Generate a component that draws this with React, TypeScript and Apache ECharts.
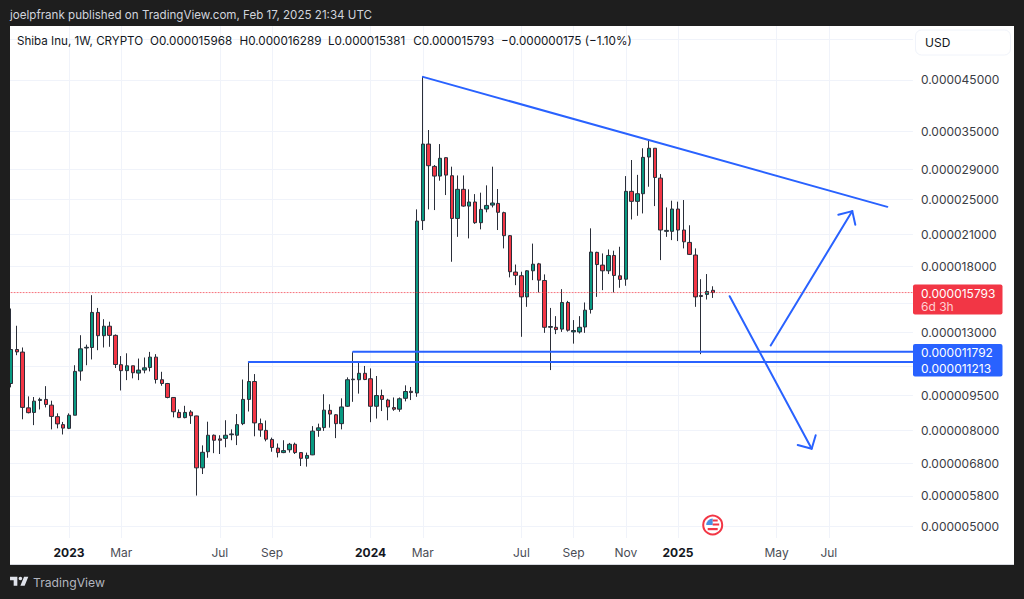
import React, { useEffect, useRef } from "react";
import * as echarts from "echarts";

// Prices are in millionths of a US dollar
const opens = [
  10.09, 11.93, 11.78, 8.95, 8.75, 9.28, 9.33, 9.07, 8.57, 8.24, 8.09, 8.63, 10.73, 12.02, 12.05, 14.32, 12.77, 13.38, 12.79, 11.07,
  10.75, 11.01, 10.62, 10.78, 10.92, 11.49, 10.28, 10.09, 9.42, 8.75, 8.53, 8.77, 8.6, 6.66, 7.21, 7.82, 7.68, 7.7, 7.84, 7.82,
  8.28, 9.33, 10.19, 8.28, 8.01, 7.66, 7.34, 7.18, 7.28, 7.48, 7.18, 6.98, 7.1, 8.01, 8.12, 8.84, 8.65, 8.28, 9.02, 10.28,
  10.28, 10.61, 10.33, 9.02, 9.51, 9.3, 8.96, 8.89, 9.38, 9.71, 9.63, 22.51, 32.82, 29.4, 28.03, 30.69, 28.08, 22.75, 26.26, 24.18,
  24.67, 22.28, 23.83, 24.3, 24.5, 23.41, 20.9, 17.47, 17.16, 15.46, 17.58, 18.19, 16.76, 13.31, 13.31, 13.19, 15.04, 13.01, 13.01, 13.33,
  14.53, 19.25, 18.08, 17.58, 18.96, 17.15, 16.87, 26.0, 24.75, 25.7, 30.79, 32.15, 27.75, 21.35, 21.35, 23.83, 21.49, 20.22, 19.0, 15.57,
  15.65, 15.968,
];
const closes = [
  11.93, 11.79, 8.97, 8.74, 9.25, 9.33, 9.1, 8.58, 8.27, 8.1, 8.63, 10.71, 11.97, 12.06, 14.32, 12.77, 13.38, 12.79, 11.08, 10.75,
  11.01, 10.64, 10.78, 10.9, 11.49, 10.29, 10.09, 9.42, 8.78, 8.53, 8.75, 8.61, 6.66, 7.19, 7.82, 7.63, 7.63, 7.82, 7.87, 8.24,
  9.33, 10.19, 8.31, 8.02, 7.67, 7.36, 7.18, 7.25, 7.48, 7.18, 6.98, 7.08, 7.98, 8.11, 8.85, 8.68, 8.28, 8.99, 10.28, 10.31,
  10.61, 10.29, 9.02, 9.51, 9.33, 8.99, 8.89, 9.36, 9.7, 9.65, 22.46, 32.82, 29.5, 28.03, 30.6, 28.17, 22.75, 26.26, 24.18, 24.67,
  22.28, 23.79, 24.26, 24.55, 23.45, 20.9, 17.5, 17.19, 15.46, 17.58, 18.16, 16.79, 13.31, 13.36, 13.16, 15.04, 13.12, 13.1, 13.31, 14.48,
  19.28, 18.13, 17.58, 18.96, 17.18, 16.85, 26.0, 24.75, 25.7, 30.74, 32.15, 27.84, 21.49, 21.45, 23.83, 21.49, 20.28, 19.06, 15.46, 15.49,
  15.88, 15.793,
];
const highs = [
  14.6, 13.41, 12.05, 9.47, 9.44, 9.41, 9.96, 9.27, 8.71, 8.35, 8.71, 11.04, 12.8, 12.22, 15.59, 14.64, 13.85, 13.68, 12.85, 11.55,
  11.71, 11.01, 11.41, 11.47, 11.79, 11.66, 10.69, 10.12, 9.44, 8.88, 9.04, 8.85, 8.61, 7.44, 8.36, 7.85, 7.82, 8.42, 8.05, 8.68,
  10.29, 11.21, 10.57, 8.49, 8.41, 7.73, 7.51, 7.63, 7.53, 7.54, 7.2, 7.18, 8.18, 8.28, 9.57, 9.11, 8.68, 9.38, 10.4, 11.77,
  11.21, 11.0, 10.87, 10.47, 9.79, 9.36, 9.42, 9.42, 10.0, 9.92, 23.79, 45.75, 35.17, 29.6, 32.82, 30.74, 29.36, 28.12, 28.12, 26.26,
  25.65, 25.83, 26.78, 29.36, 26.3, 23.52, 20.97, 18.13, 17.5, 17.64, 20.1, 18.28, 17.27, 14.64, 14.06, 16.06, 15.16, 13.79, 14.06, 15.04,
  21.67, 19.31, 19.15, 19.53, 19.41, 19.79, 28.03, 30.34, 28.2, 32.15, 33.37, 32.15, 28.31, 24.02, 24.83, 24.71, 24.91, 22.0, 19.63, 16.87,
  17.3, 16.289,
];
const lows = [
  9.9, 11.6, 8.46, 8.71, 8.22, 8.88, 8.97, 8.05, 8.09, 7.85, 8.06, 8.63, 10.23, 11.04, 11.36, 11.89, 12.05, 12.09, 10.89, 9.75,
  10.26, 10.35, 10.26, 10.61, 10.71, 10.09, 9.98, 9.38, 8.54, 8.51, 8.5, 8.27, 5.81, 6.46, 7.0, 7.16, 7.13, 7.37, 7.63, 7.45,
  8.22, 8.79, 7.78, 7.76, 7.59, 7.21, 7.01, 7.16, 7.18, 7.13, 6.72, 6.7, 7.09, 7.76, 7.99, 8.12, 7.71, 8.05, 8.99, 9.22,
  9.6, 10.26, 8.34, 8.49, 8.81, 8.42, 8.82, 8.78, 9.24, 9.3, 9.45, 21.49, 23.79, 23.71, 27.4, 25.53, 18.38, 20.78, 24.1, 20.62,
  22.15, 21.56, 23.45, 24.02, 21.49, 19.63, 17.02, 16.38, 12.7, 14.72, 16.79, 15.8, 12.95, 10.78, 12.87, 13.01, 13.03, 12.28, 12.91, 12.95,
  14.24, 15.46, 15.98, 17.3, 15.8, 16.17, 16.33, 22.64, 23.05, 23.32, 26.6, 24.18, 18.53, 20.78, 20.45, 20.35, 19.63, 19.0, 14.72, 11.66,
  15.26, 15.381,
];

const firstWeek = Date.UTC(2022, 9, 31);
const futureWeeks = 34;
const weeks = Array.from({ length: opens.length + futureWeeks }, (_, i) =>
  new Date(firstWeek + i * 7 * 86400000).toISOString().slice(0, 10)
);

const xTickWeeks = [10, 19, 36, 45, 62, 71, 88, 97, 106, 115, 132, 141];
const xTickLabels = ["2023", "Mar", "Jul", "Sep", "2024", "Mar", "Jul", "Sep", "Nov", "2025", "May", "Jul"];
const gridPrices = [55, 45, 35, 29, 25, 21, 18, 15, 13, 11, 9.5, 8, 6.8, 5.8, 5];
const labelledPrices = [45, 35, 29, 25, 21, 18, 13, 9.5, 8, 6.8, 5.8, 5];

const lastPrice = 15.793;
const resistance = 11.792;
const support = 11.213;
const trendLine = [[71.03, 45.7], [151.09, 24.09]];
const upShaft = [[130.98, 12.17], [145.05, 23.59]];
const upHead = [[142.64, 23.16], [145.05, 23.59], [145.57, 22.05]];
const downShaft = [[123.91, 15.51], [138.05, 7.32]];
const downHead = [[135.64, 7.45], [138.05, 7.32], [138.74, 7.82]];
const resistanceLine = [[59, resistance], [155.5, resistance]];
const supportLine = [[41, support], [155.5, support]];
const lastLine = [[-0.5, lastPrice], [155.5, lastPrice]];

const BLUE = "#2962ff";
const DARK = "#1e1e1e";
const FONT = "Inter, 'Noto Sans', sans-serif";

const LOGO = "M14 6H2v6h6v9h6V6Zm12 15h-7l6-15h7l-6 15Zm-7-9a3 3 0 1 0 0-6 3 3 0 0 0 0 6Z";
echarts.graphic.registerShape("tvlogo", echarts.graphic.extendPath(LOGO, {}) as any);

const overlay = (data: number[][], color = BLUE, width = 2, type: any = "solid", opacity = 1) => ({
  type: "line",
  xAxisIndex: 1,
  yAxisIndex: 0,
  data,
  showSymbol: false,
  symbol: "none",
  silent: true,
  z: 5,
  lineStyle: { color, width, type, opacity, cap: "round", join: "round" },
});

const txt = (x: number, y: number, text: string, fill: string, fontSize = 12.5, extra: any = {}) => ({
  type: "text",
  x,
  y,
  z: 60,
  silent: true,
  style: { text, fill, fontSize, fontFamily: FONT, textVerticalAlign: "middle", verticalAlign: "middle", ...extra },
});
const box = (x: number, y: number, width: number, height: number, fill: string, extra: any = {}, r = 0) => ({
  type: "rect",
  z: 50,
  silent: true,
  shape: { x, y, width, height, r },
  style: { fill, ...extra },
});

export default function App() {
  const ref = useRef<HTMLDivElement>(null);
  useEffect(() => {
    document.body.style.margin = "0";
    document.body.style.overflow = "hidden";
    const chart = echarts.init(ref.current!, undefined, { renderer: "svg" });
    chart.setOption({
      animation: false,
      backgroundColor: "#ffffff",
      grid: { left: 8.1, top: 26, width: 904.8, height: 512 },
      xAxis: [
        { type: "category", data: weeks, show: false },
        {
          type: "value",
          min: -0.5,
          max: 155.5,
          position: "bottom",
          axisLine: { show: false },
          axisTick: { show: false, customValues: xTickWeeks },
          splitLine: { show: true, lineStyle: { color: "#f0f3fa", width: 1 } },
          axisLabel: {
            customValues: xTickWeeks,
            margin: 8,
            color: "#4a4d55",
            fontFamily: FONT,
            fontSize: 12,
            formatter: (v: number) => {
              const label = xTickLabels[xTickWeeks.indexOf(v)] ?? "";
              return /^\d+$/.test(label) ? `{y|${label}}` : label;
            },
            rich: { y: { fontWeight: 700, color: "#131722", fontFamily: FONT, fontSize: 12 } },
          },
        },
      ],
      yAxis: {
        type: "log",
        position: "right",
        min: 4.714,
        max: 58.71,
        axisLine: { show: false },
        axisTick: { show: false, customValues: gridPrices },
        splitLine: { show: true, lineStyle: { color: "#f0f3fa", width: 1 } },
        axisLabel: {
          customValues: labelledPrices,
          margin: 8,
          color: "#3a3d45",
          fontFamily: FONT,
          fontSize: 12,
          formatter: (v: number) => (v / 1e6).toFixed(9),
        },
      },
      series: [
        overlay(lastLine, "#f23645", 1, [1, 2], 0.7),
        {
          type: "candlestick",
          xAxisIndex: 0,
          yAxisIndex: 0,
          z: 3,
          barWidth: 4,
          data: opens.map((o, i) => [o, closes[i], lows[i], highs[i]]),
          itemStyle: {
            color: "#089981",
            color0: "#f23645",
            borderColor: "#2a2e39",
            borderColor0: "#2a2e39",
            borderWidth: 1,
          },
        },
        overlay(trendLine),
        overlay(resistanceLine),
        overlay(supportLine),
        overlay(upShaft),
        overlay(upHead),
        overlay(downShaft),
        overlay(downHead),
      ],
      graphic: [
        box(0, 0, 1024, 26, DARK),
        box(0, 0, 10, 599, DARK),
        box(1014, 0, 10, 599, DARK),
        box(0, 565, 1024, 34, DARK),
        box(10, 564, 1004, 1, "#d6d8de"),
        txt(10, 15, "joelpfrank published on TradingView.com, Feb 17, 2025 21:34 UTC", "#d1d4dc", 11.6),
        txt(17, 41, "Shiba Inu, 1W, CRYPTO", "#131722", 11.6),
        txt(150, 41, "O0.000015968", "#131722", 11.7),
        txt(239.5, 41, "H0.000016289", "#131722", 11.7),
        txt(328, 41, "L0.000015381", "#131722", 11.7),
        txt(413.3, 41, "C0.000015793", "#131722", 11.7),
        txt(501, 41, "\u22120.000000175 (\u22121.10%)", "#131722", 11.7),
        box(915.5, 30, 95, 25, "#ffffff", { stroke: "#f0f3fa", lineWidth: 1 }, 6),
        txt(925, 42.5, "USD", "#131722", 12),
        box(913, 284.5, 89.5, 30, "#f23645", {}, 2),
        txt(921, 293, "0.000015793", "#ffffff", 12),
        txt(921, 306, "6d 3h", "#ffd0d4", 12),
        box(913, 344, 89.5, 32.5, BLUE, {}, 2),
        txt(921, 352, "0.000011792", "#ffffff", 12),
        txt(921, 368.5, "0.000011213", "#ffffff", 12),
        {
          type: "tvlogo",
          x: 8.8,
          y: 573,
          scaleX: 0.61,
          scaleY: 0.61,
          z: 60,
          silent: true,
          style: { fill: "#e0e3eb" },
        },
        txt(33, 582.5, "TradingView", "#b2b5be", 12.2),
        {
          type: "group",
          x: 712.7,
          y: 525,
          z: 55,
          silent: true,
          children: [
            { type: "circle", z: 55, shape: { cx: 0, cy: 0, r: 9.5 }, style: { fill: "#ffffff", stroke: "#f23645", lineWidth: 2 } },
            { type: "sector", z: 56, shape: { cx: 0, cy: 0, r: 6.5, r0: 0, startAngle: Math.PI, endAngle: Math.PI * 1.5 }, style: { fill: "#4a90e2" } },
            { type: "rect", z: 56, shape: { x: 0, y: -5.5, width: 5, height: 2 }, style: { fill: "#f23645" } },
            { type: "rect", z: 56, shape: { x: 0, y: -1.5, width: 6.5, height: 2 }, style: { fill: "#f23645" } },
            { type: "rect", z: 56, shape: { x: -5, y: 3, width: 10, height: 2.2 }, style: { fill: "#f23645" } },
          ],
        },
      ],
    });
    return () => chart.dispose();
  }, []);
  return <div ref={ref} style={{ width: 1024, height: 599, display: "block" }} />;
}
